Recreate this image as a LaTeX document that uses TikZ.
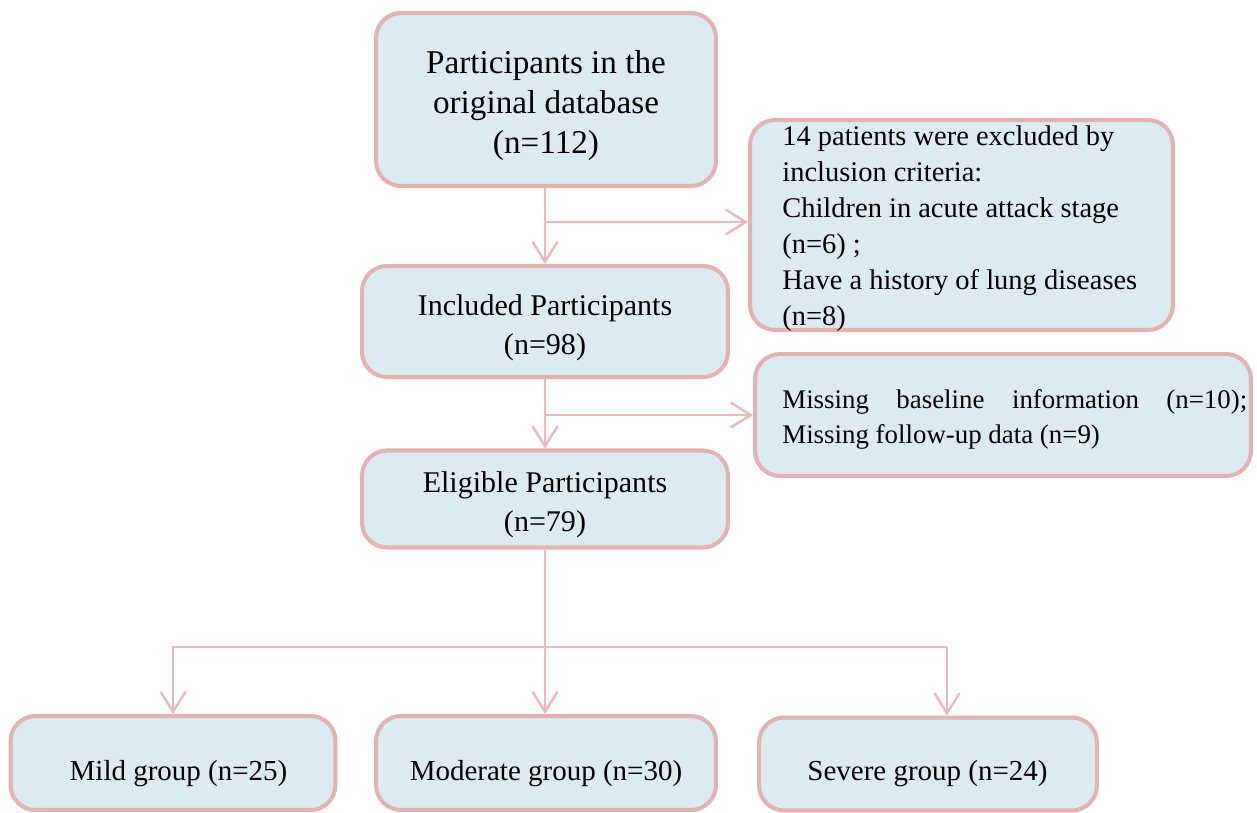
\documentclass[tikz,border=0pt]{standalone}
\usepackage{fontspec}
\setmainfont{Liberation Serif}
\usetikzlibrary{arrows.meta}
\definecolor{boxborder}{RGB}{229,178,178}
\definecolor{boxfill}{RGB}{219,235,242}
\definecolor{arrowpink}{RGB}{234,186,186}
\begin{document}
\begin{tikzpicture}[x=0.02cm,y=-0.02cm,
  box/.style={draw=boxborder, fill=boxfill, line width=2.3pt, rounded corners=0.5cm, inner sep=0pt},
  conn/.style={draw=arrowpink, line width=1.4pt},
  arr/.style={conn, -{Straight Barb[length=0.4cm,width=0.5cm,line width=1.4pt]}},
  lbl/.style={inner sep=0pt, text=black},
  ]
\useasboundingbox (0,0) rectangle (1257,812);
% boxes
\node[box, minimum width=6.8cm, minimum height=3.46cm] (orig) at (546,99.5) {};
\node[box, minimum width=7.32cm, minimum height=2.22cm] (incl) at (545,321.5) {};
\node[box, minimum width=7.32cm, minimum height=1.94cm] (elig) at (545,499) {};
\node[box, minimum width=8.46cm, minimum height=4.2cm] (excl1) at (961.5,225) {};
\node[box, minimum width=9.92cm, minimum height=2.44cm] (excl2) at (1003,415) {};
\node[box, minimum width=6.5cm, minimum height=1.88cm] (mild) at (173,763) {};
\node[box, minimum width=6.8cm, minimum height=1.88cm] (mod) at (546,763) {};
\node[box, minimum width=6.76cm, minimum height=1.86cm] (sev) at (928,764) {};
% texts
\node[lbl, align=center, font=\fontsize{18.9}{22.8}\selectfont] (origtxt) at (546,105.5)
  {Participants in the\\original database\\(n=112)};
\node[lbl, align=center, font=\fontsize{17.1}{22.2}\selectfont] (incltxt) at (545,327.5)
  {Included Participants\\(n=98)};
\node[lbl, align=center, font=\fontsize{17.1}{22.2}\selectfont] (eligtxt) at (545,505)
  {Eligible Participants\\(n=79)};
\node[lbl, anchor=north west, align=left, font=\fontsize{16.2}{20.5}\selectfont] (excl1txt) at (782,125)
  {14 patients were excluded by\\inclusion criteria:\\Children in acute attack stage\\(n=6)~;\\Have a history of lung diseases\\(n=8)};
\node[lbl, anchor=north west, align=left, font=\fontsize{15.3}{19.9}\selectfont] (excl2txt) at (782,389)
  {\hbox to 9.3cm{Missing\hfill baseline\hfill information\hfill (n=10);}\\Missing follow-up data (n=9)};
\node[lbl, anchor=base, font=\fontsize{16.5}{20}\selectfont] (mildtxt) at (178.5,780) {Mild group (n=25)};
\node[lbl, anchor=base, font=\fontsize{16.5}{20}\selectfont] (modtxt) at (546,780) {Moderate group (n=30)};
\node[lbl, anchor=base, font=\fontsize{16.5}{20}\selectfont] (sevtxt) at (927.5,780) {Severe group (n=24)};
% connectors
\coordinate (s1) at (545,222);
\coordinate (s2) at (545,415);
\coordinate (s3) at (545,647);
\coordinate (lb) at (173,647);
\coordinate (rb) at (947,647);
\draw[arr] (s1 |- orig.south) -- (s1 |- incl.north);
\draw[arr] (s1) -- (excl1.west |- s1);
\draw[arr] (s2 |- incl.south) -- (s2 |- elig.north);
\draw[arr] (s2) -- (excl2.west |- s2);
\draw[arr] (s3 |- elig.south) -- (s3 |- mod.north);
\draw[arr] (rb) -- (lb) -- (lb |- mild.north);
\draw[arr] (rb) -- (rb |- sev.north);
\end{tikzpicture}
\end{document}
